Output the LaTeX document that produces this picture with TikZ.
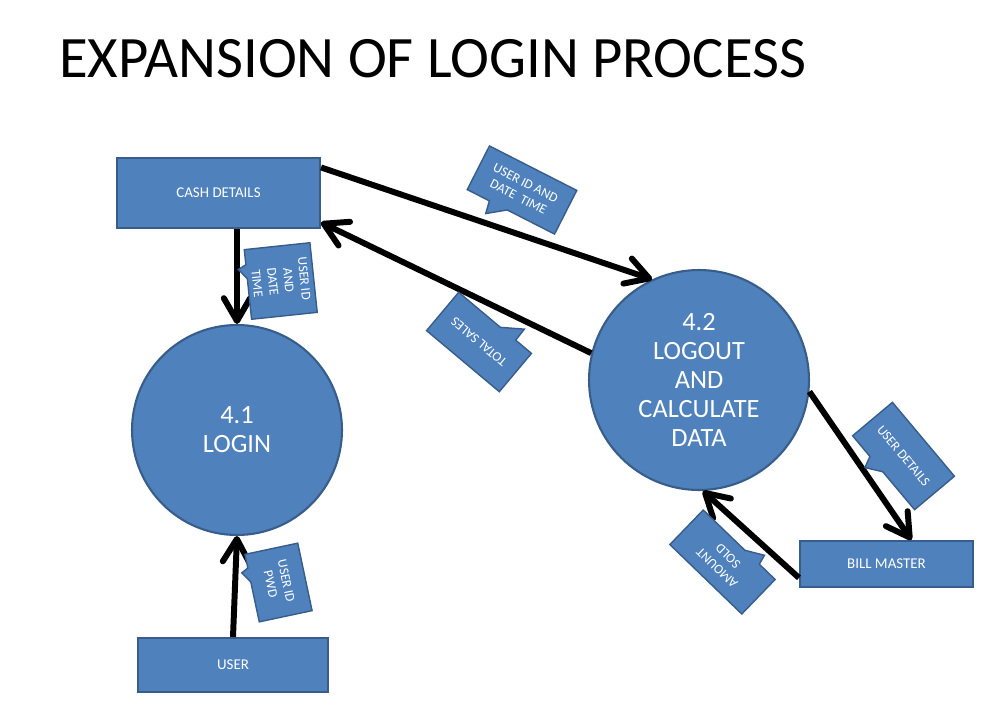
\documentclass[tikz,border=0pt]{standalone}
\usepackage{fontspec}
\setmainfont{Carlito}
\usepackage{tikz}
\usetikzlibrary{positioning,arrows.meta,shapes.callouts}
\definecolor{boxblue}{HTML}{4F81BD}
\definecolor{boxedge}{HTML}{385D8A}

\begin{document}
\begin{tikzpicture}[x=0.02cm,y=-0.02cm,
    store/.style={rectangle,fill=boxblue,draw=boxedge,line width=1.2pt,text=white,font=\fontsize{8.5}{10}\selectfont,inner sep=0pt},
    proc/.style={circle,fill=boxblue,draw=boxedge,line width=1.2pt,text=white,align=center,font=\fontsize{15}{16.5}\selectfont,inner sep=0pt},
    flowlabel/.style={rectangle callout,fill=boxblue,draw=boxedge,line width=0.8pt,text=white,align=center,font=\fontsize{7.6}{9}\selectfont,inner sep=0pt,callout pointer width=0.4cm},
    flow/.style={line width=3.4pt,-{Straight Barb[length=13pt,width=15pt,round]}}]

  \useasboundingbox (0,0) rectangle (997,717);

  \node[anchor=base west,inner sep=0pt,font=\fontsize{33.4}{40}\selectfont] (title) at (59,77) {EXPANSION OF LOGIN PROCESS};

  % data stores
  \node[store,minimum width=4.06cm,minimum height=1.4cm] (cash) at (218.5,193) {CASH DETAILS};
  \node[store,minimum width=3.8cm,minimum height=1.08cm] (user) at (233,665) {USER};
  \node[store,minimum width=3.46cm,minimum height=0.92cm] (bill) at (886.5,564) {BILL MASTER};

  % processes
  \node[proc,minimum size=4.2cm] (login) at (237,430) {4.1\\LOGIN};
  \node[proc,minimum size=4.4cm] (calc) at (699,380) {4.2\\LOGOUT\\AND\\CALCULATE\\DATA};

  % flows
  \draw[flow] (cash.south -| login.north) -- (login.north);
  \draw[flow] (cash.14) -- (calc.115);
  \draw[flow] (calc.166) -- (cash.-16);
  \draw[flow] (calc.-6) -- (bill.44);
  \draw[flow] (bill.189) -- (calc.-88);
  \draw[flow] (user.north) -- (login.south);

  % flow labels
  \node[flowlabel,callout pointer width=0.28cm,minimum width=1.4cm,minimum height=1.32cm,rotate=-84,callout relative pointer={(-0.062cm,-0.16cm)}] (lblcash) at (280.75,281) {USER ID\\AND\\DATE\\TIME};
  \node[flowlabel,minimum width=1.96cm,minimum height=0.98cm,rotate=-27,callout relative pointer={(-0.15cm,-0.26cm)}] (lbllogout) at (522,190) {USER ID AND\\DATE\ \ TIME};
  \node[flowlabel,minimum width=1.9cm,minimum height=1.0cm,rotate=140,callout relative pointer={(-0.19cm,-0.28cm)}] (lblsales) at (479,342) {TOTAL SALES};
  \node[flowlabel,minimum width=1.93cm,minimum height=1.04cm,rotate=-50,callout relative pointer={(-0.095cm,-0.22cm)}] (lbldetails) at (903.5,456) {USER DETAILS};
  \node[flowlabel,minimum width=2.0cm,minimum height=0.96cm,rotate=136,callout relative pointer={(-0.15cm,-0.2cm)}] (lblamount) at (722.5,562) {AMOUNT\\SOLD};
  \node[flowlabel,callout pointer width=0.28cm,minimum width=1.38cm,minimum height=1.08cm,rotate=-78,callout relative pointer={(-0.07cm,-0.14cm)}] (lblpwd) at (278.5,582.5) {USER ID\\PWD};

\end{tikzpicture}
\end{document}
